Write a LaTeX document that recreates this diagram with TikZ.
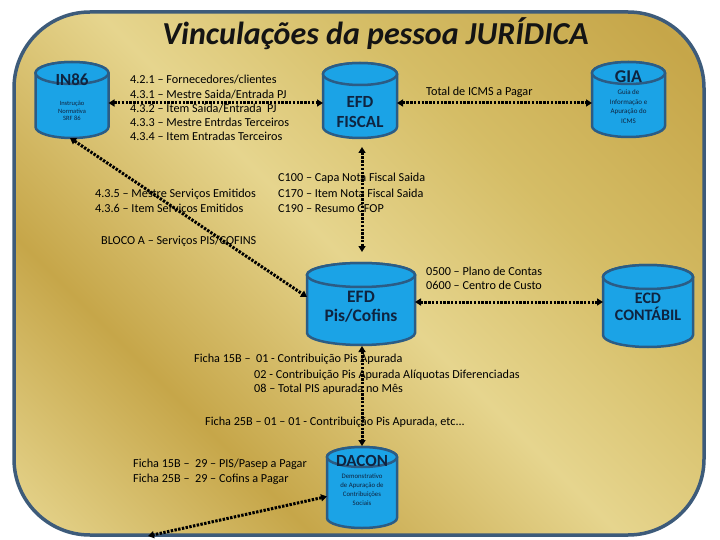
\documentclass[tikz,border=0pt]{standalone}
\usepackage{fontspec}
\setmainfont{Carlito}
\usetikzlibrary{arrows.meta,calc}
\definecolor{goldL}{HTML}{E6D58E}
\definecolor{goldM}{HTML}{D5BD66}
\definecolor{goldD}{HTML}{C6A649}
\definecolor{framecol}{HTML}{3D5B7A}
\definecolor{cylblue}{HTML}{1BA3E6}
\definecolor{cyledge}{HTML}{2B5C85}
\definecolor{navy}{HTML}{0F2440}
\pgfdeclarehorizontalshading{goldsh}{100bp}{color(0bp)=(goldL); color(15bp)=(goldL); color(32bp)=(goldD); color(50bp)=(goldL); color(65bp)=(goldM); color(82bp)=(goldD); color(100bp)=(goldM)}
\newcommand\mydbcyl[2]{%
  \filldraw[cylshape] let \p1=(#1.west), \p2=(#1.east), \n1={0.5*(\x2-\x1)} in
    ([yshift=-#2pt]#1.north west) -- ([yshift=#2pt]#1.south west)
    arc[start angle=180,end angle=360,x radius=\n1,y radius=#2pt]
    -- ([yshift=-#2pt]#1.north east)
    arc[start angle=0,end angle=180,x radius=\n1,y radius=#2pt] -- cycle;
  \filldraw[cylshape] let \p1=(#1.west), \p2=(#1.east), \n1={0.5*(\x2-\x1)} in
    ([yshift=-#2pt]#1.north) ellipse[x radius=\n1,y radius=#2pt];
}
\tikzset{
  cylbox/.style={rectangle, inner sep=0pt, outer sep=0pt},
  cylshape/.style={fill=cylblue, draw=cyledge, line width=2.5pt},
  txt/.style={anchor=base west, inner sep=0pt, font=\fontsize{12.2}{14}\selectfont, text=black},
  cyltitle/.style={anchor=center, inner sep=0pt, font=\bfseries\fontsize{17}{20}\selectfont, text=navy},
  cylsmall/.style={anchor=center, inner sep=0pt, align=center, text=navy},
  link/.style={line width=3pt, dash pattern=on 2.4pt off 1.4pt, black,
    {Triangle[length=6pt,width=7pt]}-{Triangle[length=6pt,width=7pt]}},
}
\begin{document}
\begin{tikzpicture}[x=1pt,y=-1pt]
\useasboundingbox (0,0) rectangle (720,540);
\fill[white] (0,0) rectangle (720,540);
\shadedraw[shading=goldsh, shading angle=45, draw=framecol, line width=3.5pt, rounded corners=76pt] (14,12) rectangle (704,535);

% title
\node[anchor=base, inner sep=0pt, font=\bfseries\itshape\fontsize{32}{36}\selectfont, text=black!92] (title) at (375.5,45) {Vinculações da pessoa JURÍDICA};

% cylinder frames
\node[cylbox, minimum width=73pt, minimum height=76pt] (in86) at (72,100) {};
\node[cylbox, minimum width=74pt, minimum height=75pt] (fiscal) at (360,100.5) {};
\node[cylbox, minimum width=73pt, minimum height=75pt] (gia) at (628.5,99.5) {};
\node[cylbox, minimum width=108pt, minimum height=82pt] (pis) at (361,304) {};
\node[cylbox, minimum width=90pt, minimum height=82pt] (ecd) at (648,306) {};
\node[cylbox, minimum width=70pt, minimum height=81pt] (dacon) at (362,487.5) {};
\mydbcyl{in86}{11}
\mydbcyl{fiscal}{11}
\mydbcyl{gia}{11}
\mydbcyl{pis}{12}
\mydbcyl{ecd}{12}
\mydbcyl{dacon}{10}

% cylinder texts
\node[cyltitle] (in86t) at (72,80) {IN86};
\node[cylsmall, font=\fontsize{6.5}{7.6}\selectfont] (in86s) at (72,111) {Instrução\\Normativa\\SRF 86};
\node[cyltitle, align=center, font=\bfseries\fontsize{17}{20}\selectfont] (fiscalt) at (360,112) {EFD\\FISCAL};
\node[cyltitle, font=\bfseries\fontsize{18}{20}\selectfont] (giat) at (628.5,77) {GIA};
\node[cylsmall, font=\fontsize{7}{9.5}\selectfont] (gias) at (628.5,106.5) {Guia de\\Informação e\\Apuração do\\ICMS};
\node[cyltitle, align=center, font=\bfseries\fontsize{17.5}{19}\selectfont] (pist) at (361,306.5) {EFD\\Pis/Cofins};
\node[cyltitle, align=center, font=\bfseries\fontsize{16}{17}\selectfont] (ecdt) at (648,307) {ECD\\CONTÁBIL};
\node[cyltitle, font=\bfseries\fontsize{17}{18}\selectfont] (dacont) at (362,461) {DACON};
\node[cylsmall, font=\fontsize{6.8}{9}\selectfont] (dacons) at (362,489.5) {Demonstrativo\\de Apuração de\\Contribuições\\Sociais};

% free texts
\node[txt] (t421) at (130,84) {4.2.1 – Fornecedores/clientes};
\node[txt] (t431) at (130,98.2) {4.3.1 – Mestre Saida/Entrada PJ};
\node[txt] (t432) at (130,112.4) {4.3.2 – Item Saida/Entrada\ \ PJ};
\node[txt] (t433) at (130,126.6) {4.3.3 – Mestre Entrdas Terceiros};
\node[txt] (t434) at (130,140.8) {4.3.4 – Item Entradas Terceiros};
\node[txt] (t435) at (95,197) {4.3.5 – Mestre Serviços Emitidos};
\node[txt] (t436) at (95,213) {4.3.6 – Item Serviços Emitidos};
\node[txt] (c100) at (278,182) {C100 – Capa Nota Fiscal Saida};
\node[txt] (c170) at (278,197) {C170 – Item Nota Fiscal Saida};
\node[txt] (c190) at (278,212) {C190 – Resumo CFOP};
\node[txt] (blocoa) at (101,244) {BLOCO A – Serviços PIS/COFINS};
\node[txt] (icms) at (426,96) {Total de ICMS a Pagar};
\node[txt] (p0500) at (426,275) {0500 – Plano de Contas};
\node[txt] (p0600) at (426,289) {0600 – Centro de Custo};
\node[txt] (f15a) at (194,362) {Ficha 15B –\ \ 01 - Contribuição Pis Apurada};
\node[txt] (f15b) at (254,378) {02 - Contribuição Pis Apurada Alíquotas Diferenciadas};
\node[txt] (f15c) at (254,392) {08 – Total PIS apurada no Mês};
\node[txt] (f25a) at (205,425) {Ficha 25B – 01 – 01 - Contribuição Pis Apurada, etc...};
\node[txt] (f15d) at (133,467) {Ficha 15B –\ \ 29 – PIS/Pasep a Pagar};
\node[txt] (f25d) at (133,482) {Ficha 25B –\ \ 29 – Cofins a Pagar};

% connectors
\coordinate (offend) at (148,536);
\draw[link] ([yshift=-3pt]in86.east) -- ([yshift=-2.5pt]fiscal.west);
\draw[link] ([yshift=-2.5pt]fiscal.east) -- ([yshift=-3.5pt]gia.west);
\draw[link, shorten <=9pt, shorten >=11pt] ([xshift=2pt]fiscal.south) -- ([xshift=1pt]pis.north);
\draw[link] ([xshift=-2pt]in86.south) -- ([yshift=7pt]pis.west);
\draw[link] ([yshift=2pt]pis.east) -- ([yshift=4pt]ecd.west);
\draw[link, shorten <=1pt, shorten >=1pt] ([xshift=1pt]pis.south) -- (dacon.north);
\draw[link] ([yshift=-9pt]dacon.west) -- (offend);
\end{tikzpicture}
\end{document}
